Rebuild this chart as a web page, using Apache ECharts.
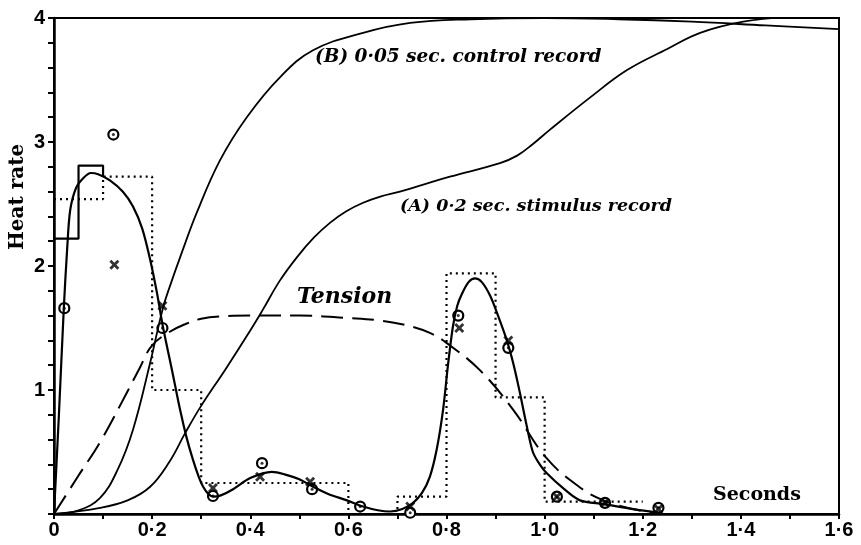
<!DOCTYPE html>
<html>
<head>
<meta charset="utf-8">
<script src="https://cdn.jsdelivr.net/npm/echarts@6/dist/echarts.min.js"></script>
<style>html,body{margin:0;padding:0;background:#fff;}#c{width:861px;height:545px;}</style>
</head>
<body>
<div id="c"></div>
<script>
// ---- data ----
const curveB = [[0,0],[0.05,0.03],[0.094,0.13],[0.13,0.36],[0.161,0.68],[0.196,1.22],[0.222,1.66],[0.24,1.88],[0.257,2.07],[0.291,2.43],[0.338,2.85],[0.393,3.20],[0.46,3.52],[0.528,3.74],[0.63,3.88],[0.726,3.96],[0.85,3.99],[1.0,4.0],[1.15,3.99],[1.3,3.97],[1.45,3.94],[1.6,3.91]];
const curveA = [[0,0],[0.094,0.05],[0.15,0.11],[0.196,0.22],[0.235,0.42],[0.267,0.65],[0.298,0.86],[0.35,1.17],[0.40,1.48],[0.426,1.65],[0.46,1.88],[0.495,2.07],[0.53,2.23],[0.563,2.35],[0.595,2.44],[0.63,2.51],[0.665,2.56],[0.705,2.60],[0.807,2.72],[0.909,2.83],[0.944,2.89],[0.975,2.98],[1.011,3.10],[1.093,3.36],[1.168,3.58],[1.25,3.75],[1.317,3.88],[1.405,3.97],[1.5,4.01],[1.6,4.02]];
const tension = [[0,0],[0.05,0.31],[0.094,0.58],[0.15,0.99],[0.175,1.18],[0.2,1.36],[0.236,1.47],[0.267,1.53],[0.30,1.575],[0.35,1.595],[0.40,1.60],[0.5,1.60],[0.6,1.58],[0.665,1.56],[0.72,1.52],[0.766,1.46],[0.80,1.38],[0.868,1.16],[0.936,0.84],[1.004,0.45],[1.07,0.22],[1.12,0.11],[1.18,0.04],[1.23,0.0]];
const heatCurve = [[0,0],[0.01,0.8],[0.02,1.66],[0.027,2.15],[0.033,2.45],[0.045,2.63],[0.06,2.71],[0.075,2.75],[0.09,2.74],[0.114,2.69],[0.14,2.6],[0.161,2.48],[0.18,2.3],[0.196,2.05],[0.21,1.78],[0.222,1.51],[0.24,1.17],[0.257,0.84],[0.27,0.62],[0.283,0.44],[0.295,0.3],[0.304,0.22],[0.315,0.16],[0.325,0.14],[0.34,0.15],[0.365,0.2],[0.40,0.29],[0.444,0.34],[0.47,0.32],[0.50,0.28],[0.528,0.22],[0.56,0.16],[0.597,0.11],[0.63,0.06],[0.66,0.03],[0.685,0.02],[0.71,0.04],[0.732,0.09],[0.75,0.17],[0.766,0.30],[0.78,0.52],[0.793,0.84],[0.803,1.2],[0.813,1.51],[0.822,1.68],[0.832,1.78],[0.845,1.87],[0.858,1.90],[0.872,1.87],[0.889,1.76],[0.905,1.6],[0.923,1.40],[0.937,1.2],[0.95,0.97],[0.963,0.72],[0.976,0.5],[0.99,0.4],[1.004,0.33],[1.04,0.2],[1.072,0.11],[1.12,0.08],[1.18,0.04],[1.235,0.01]];
// histogram, 0.1 s bins (dotted): bin start, value; last point = end of last bin
const histBins = [[0,2.54],[0.1,2.72],[0.2,1.00],[0.3,0.25],[0.4,0.25],[0.5,0.25],[0.6,0.0],[0.7,0.14],[0.8,1.94],[0.9,0.94],[1.0,0.10],[1.1,0.10],[1.2,0.10]];
// 0.05 s bins (solid)
const histFine = [[0,2.22],[0.05,2.81],[0.1,2.72]];
const circlePts = [[0.021,1.66],[0.121,3.06],[0.221,1.50],[0.324,0.145],[0.424,0.41],[0.526,0.20],[0.624,0.06],[0.726,0.01],[0.824,1.60],[0.926,1.34],[1.025,0.14],[1.123,0.09],[1.232,0.05]];
const crossPts = [[0.123,2.01],[0.221,1.68],[0.324,0.21],[0.42,0.30],[0.522,0.26],[0.726,0.06],[0.826,1.50],[0.926,1.40],[1.025,0.14],[1.123,0.09],[1.232,0.04]];
const xTickStep = 0.1, yTickStep = 0.2;
const labelB = '(B) 0·05 sec. control record';
const labelA = '(A) 0·2 sec. stimulus record';
const labelT = 'Tension';
const labelX = 'Seconds';
const labelY = 'Heat rate';

const serif = 'DejaVu Serif';
const crossPath = 'path://M0,2 L2,0 L5,3 L8,0 L10,2 L7,5 L10,8 L8,10 L5,7 L2,10 L0,8 L3,5 Z';
const lineBase = {type:'line', symbol:'none', silent:true, animation:false};

const chart = echarts.init(document.getElementById('c'), null, {renderer:'canvas'});
chart.setOption({
  backgroundColor:'#fff',
  animation:false,
  grid:{left:54, right:22, top:18, bottom:31, show:true, borderColor:'#000', borderWidth:2, backgroundColor:'transparent'},
  xAxis:{
    type:'value', min:0, max:1.6, interval:xTickStep,
    axisLine:{show:true, lineStyle:{color:'#000', width:2.5}},
    axisTick:{show:true, inside:false, length:5, lineStyle:{color:'#000', width:2}},
    splitLine:{show:false},
    axisLabel:{margin:6, color:'#000', fontFamily:'Liberation Sans', fontWeight:'bold', fontSize:20,
      formatter:function(v){const r=Math.round(v*10); if(r%2) return ''; if(r===0) return '0'; return (r/10).toFixed(1).replace('.','·');}}
  },
  yAxis:{
    type:'value', min:0, max:4, interval:yTickStep,
    axisLine:{show:true, lineStyle:{color:'#000', width:2.5}},
    axisTick:{show:true, inside:false, length:6, lineStyle:{color:'#000', width:2}},
    splitLine:{show:false},
    axisLabel:{margin:9, color:'#000', fontFamily:'Liberation Sans', fontWeight:'bold', fontSize:20,
      formatter:function(v){const r=Math.round(v*10); if(r===0||r%10) return ''; return String(r/10);}}
  },
  series:[
    Object.assign({}, lineBase, {data:curveB, smooth:0.4, lineStyle:{color:'#000', width:1.8}}),
    Object.assign({}, lineBase, {data:curveA, smooth:0.4, lineStyle:{color:'#000', width:1.8}}),
    Object.assign({}, lineBase, {data:tension, smooth:0.4, lineStyle:{color:'#000', width:2, type:[22,9]}}),
    Object.assign({}, lineBase, {data:heatCurve, smooth:0.3, lineStyle:{color:'#000', width:2.2}}),
    Object.assign({}, lineBase, {data:histBins, step:'end', lineStyle:{color:'#000', width:2.2, type:[2,4]}}),
    Object.assign({}, lineBase, {data:histFine, step:'end', lineStyle:{color:'#000', width:2.2}}),
    {type:'scatter', data:circlePts, symbol:'circle', symbolSize:10, silent:true, animation:false,
      itemStyle:{color:'#fff', borderColor:'#000', borderWidth:2.2, opacity:1}},
    {type:'scatter', data:circlePts, symbol:'circle', symbolSize:3, silent:true, animation:false,
      itemStyle:{color:'#000'}},
    {type:'scatter', data:crossPts, symbol:crossPath, symbolSize:10, silent:true, animation:false,
      itemStyle:{color:'#000'}}
  ],
  graphic:[
    {type:'text', left:315, top:48, silent:true, style:{text:labelB, font:'italic bold 18.5px "'+serif+'"', fill:'#000'}},
    {type:'text', left:400, top:197, silent:true, style:{text:labelA, font:'italic bold 17.5px "'+serif+'"', fill:'#000'}},
    {type:'text', left:297, top:286, silent:true, style:{text:labelT, font:'italic bold 22px "'+serif+'"', fill:'#000'}},
    {type:'text', left:713, top:486, silent:true, style:{text:labelX, font:'bold 19px "'+serif+'"', fill:'#000'}},
    {type:'text', x:18, y:197, rotation:Math.PI/2, silent:true,
      style:{text:labelY, font:'bold 20px "'+serif+'"', fill:'#000', textAlign:'center', textVerticalAlign:'middle'}}
  ]
});
</script>
</body>
</html>
